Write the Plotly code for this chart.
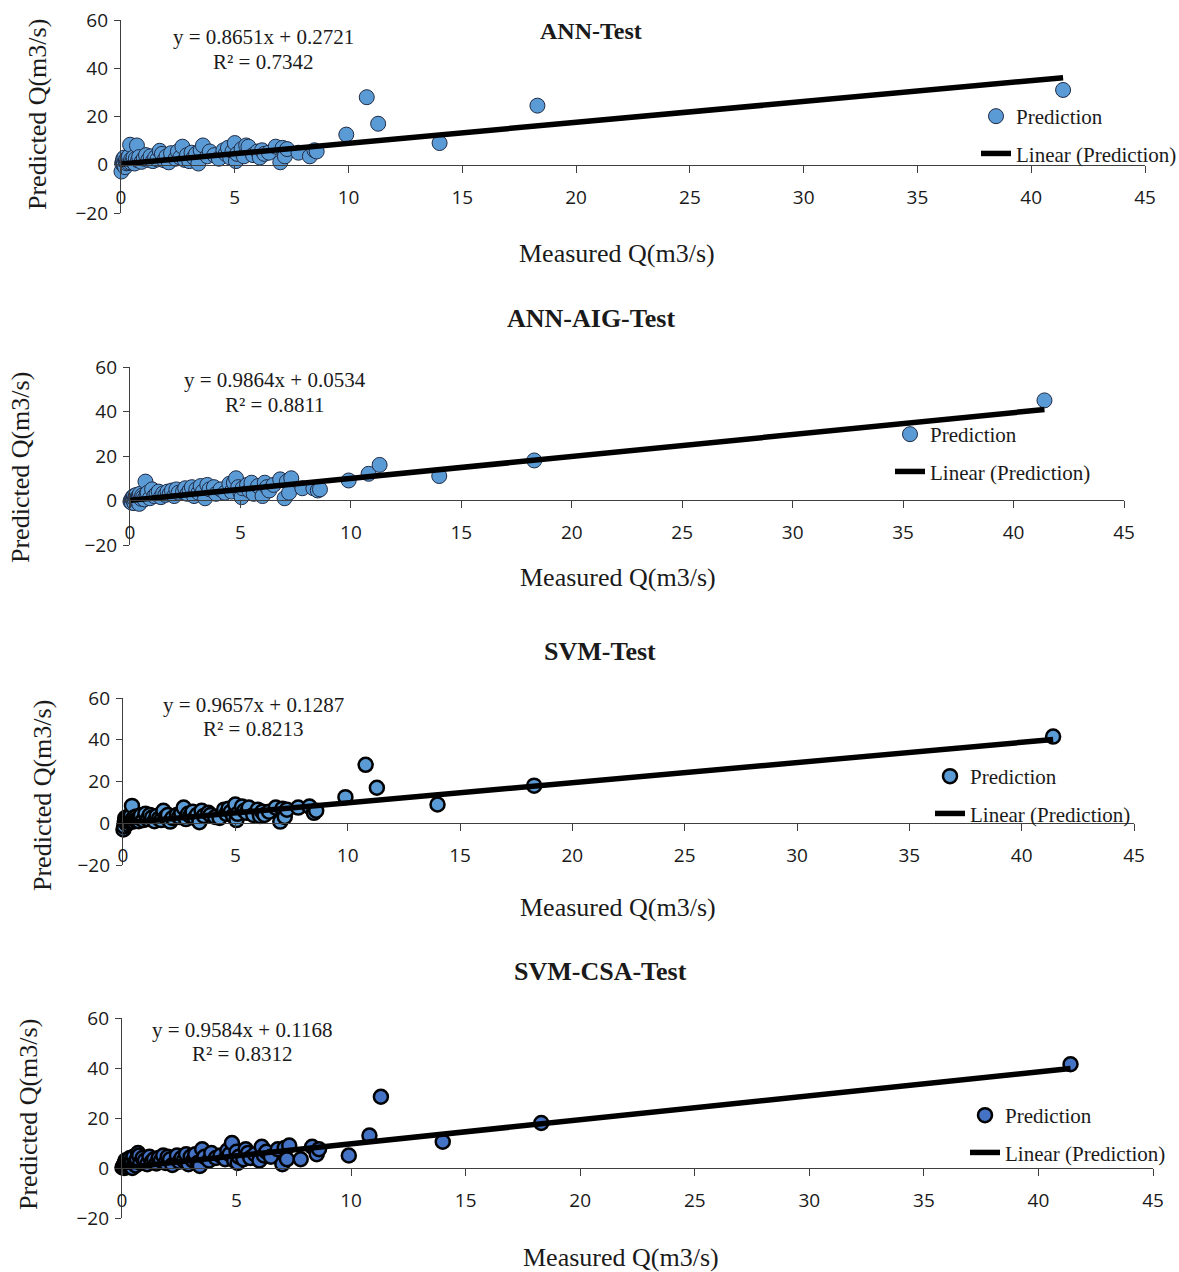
import plotly.graph_objects as go

W, H = 1179, 1272

# ---------------- data ----------------
measured = [0.02, 0.05, 0.08, 0.10, 0.12, 0.15, 0.18, 0.20, 0.22, 0.25,
            0.28, 0.30, 0.33, 0.35, 0.40, 0.42, 0.45, 0.50, 0.55, 0.60,
            0.65, 0.70, 0.75, 0.80, 0.90, 1.00, 1.10, 1.20, 1.30, 1.40,
            1.50, 1.60, 1.70, 1.80, 1.90, 2.00, 2.10, 2.20, 2.40, 2.50,
            2.60, 2.70, 2.80, 2.90, 3.00, 3.10, 3.20, 3.30, 3.40, 3.50,
            3.60, 3.80, 3.90, 4.10, 4.30, 4.50, 4.60, 4.70, 4.80, 4.90,
            5.00, 5.05, 5.10, 5.30, 5.40, 5.50, 5.60, 5.80, 6.00, 6.10,
            6.20, 6.30, 6.50, 6.80, 7.00, 7.10, 7.20, 7.30, 7.80, 8.30,
            8.50, 8.60, 9.90, 10.80, 11.30, 14.00, 18.30, 41.40]

pred_ann = [-2.8, 0.5, 1.5, 2.5, 0.0, 3.0, -1.0, 1.2, 2.0, 0.6,
            1.8, 2.8, 0.8, 3.5, 8.3, 1.0, 2.2, 1.5, 3.0, 0.5,
            2.5, 8.0, 1.8, 3.2, 1.2, 2.5, 4.0, 2.0, 3.5, 1.5,
            3.0, 2.2, 5.8, 4.5, 1.8, 3.5, 1.0, 4.8, 2.5, 5.5,
            3.0, 7.5, 2.0, 4.0, 1.5, 5.0, 3.0, 4.5, 0.5, 6.0,
            8.0, 3.5, 5.5, 4.0, 2.5, 6.0, 4.5, 7.0, 3.0, 5.5,
            9.0, 1.5, 4.5, 6.5, 3.5, 8.0, 7.5, 4.0, 5.5, 3.0,
            6.0, 4.5, 5.0, 7.5, 1.0, 7.0, 3.5, 6.5, 5.0, 3.5,
            6.0, 5.5, 12.5, 28.0, 17.0, 9.0, 24.5, 31.0]

pred_ann_aig = [-0.5, 0.3, -1.0, 0.8, 1.5, 0.2, 2.0, -1.2, 0.5, 1.8,
                2.5, 1.0, 0.0, 1.2, 2.0, -1.5, 3.0, 0.8, 2.2, 1.5,
                0.5, 8.5, 2.5, 3.5, 1.0, 5.0, 2.0, 3.0, 4.0, 1.5,
                3.2, 2.5, 4.0, 3.0, 4.5, 2.0, 5.0, 3.5, 4.0, 5.5,
                3.0, 4.5, 6.0, 2.0, 5.0, 3.5, 6.5, 4.0, 1.0, 7.0,
                5.0, 6.0, 3.0, 5.0, 3.5, 7.5, 4.0, 8.0, 10.0, 6.0,
                3.5, 1.5, 5.5, 7.0, 4.5, 8.0, 3.0, 6.5, 2.0, 8.0,
                6.0, 4.5, 7.0, 9.5, 1.0, 8.5, 3.5, 10.0, 5.5, 5.5,
                4.5, 5.0, 9.0, 12.0, 16.0, 11.0, 18.0, 45.0]

pred_svm = [-3.0, -1.5, 0.8, 2.5, 1.5, 0.0, -0.5, 3.0, 1.0, 2.0,
            0.5, 2.2, 1.2, 3.5, 8.3, 1.8, 0.8, 2.8, 1.5, 3.2,
            2.0, 1.0, 2.5, 3.8, 1.5, 4.5, 2.0, 4.0, 2.8, 1.0,
            3.5, 2.2, 1.5, 6.0, 3.0, 4.0, 0.8, 2.5, 4.0, 3.0,
            5.0, 7.5, 2.0, 4.5, 3.5, 5.5, 2.5, 4.0, 0.5, 6.0,
            3.5, 5.0, 4.0, 3.0, 2.5, 6.5, 4.5, 7.0, 5.5, 3.5,
            9.0, 1.5, 4.5, 8.0, 6.0, 5.0, 7.5, 4.0, 6.5, 3.5,
            5.5, 4.0, 5.5, 7.5, 0.8, 7.0, 3.0, 6.5, 7.5, 8.0,
            5.0, 6.0, 12.5, 28.0, 17.0, 9.0, 18.0, 41.5]

pred_svm_csa = [0.2, 0.5, 1.2, 0.0, 2.0, 3.0, 1.0, 0.3, 2.5, 1.5,
                3.5, 0.8, 2.2, 4.0, 1.5, 3.0, 0.0, 4.5, 2.0, 1.0,
                3.5, 6.0, 5.0, 2.0, 4.0, 3.0, 1.5, 4.5, 2.5, 3.5,
                1.8, 4.0, 3.0, 5.0, 2.0, 4.5, 3.5, 1.2, 5.0, 2.5,
                4.0, 3.0, 5.5, 1.5, 4.5, 3.0, 5.5, 2.0, 0.8, 7.5,
                4.5, 3.0, 6.0, 4.0, 5.0, 3.5, 7.0, 5.5, 10.0, 3.0,
                6.5, 2.0, 4.5, 3.5, 7.5, 6.0, 4.0, 5.5, 3.0, 8.5,
                5.0, 6.5, 4.5, 7.5, 1.5, 8.0, 3.5, 9.0, 3.5, 8.5,
                5.5, 7.5, 5.0, 13.0, 28.5, 10.5, 18.0, 41.5]

model_titles = ["ANN-Test", "ANN-AIG-Test", "SVM-Test", "SVM-CSA-Test"]
predictions = [pred_ann, pred_ann_aig, pred_svm, pred_svm_csa]
slopes = [0.8651, 0.9864, 0.9657, 0.9584]
intercepts = [0.2721, 0.0534, 0.1287, 0.1168]
r_squared = [0.7342, 0.8811, 0.8213, 0.8312]
x_tick_vals = [0, 5, 10, 15, 20, 25, 30, 35, 40, 45]
y_tick_vals = [-20, 0, 20, 40, 60]
x_range = [0, 45]
y_range = [-20, 60]

# ---------------- layout (pixel geometry) ----------------
def fx(p):
    return p / W


def fy(p):
    return 1 - p / H


panels = [
    dict(x0=121, x1=1145, ytop=20, ybot=213, zero=165, title=(591, 31, 24),
         eq=(263, 37, 62), xt=(617, 253), yt=(37, 115), leg=(1016, 116),
         fill="#5B9BD5", edge="#1f2a44", edgew=1, msize=15),
    dict(x0=130, x1=1124, ytop=367, ybot=545, zero=500, title=(591, 319, 26),
         eq=(275, 380, 405), xt=(618, 577), yt=(20, 468), leg=(930, 434),
         fill="#5B9BD5", edge="#1f2a44", edgew=1, msize=15),
    dict(x0=123, x1=1134, ytop=698, ybot=865, zero=823, title=(600, 651, 26),
         eq=(253, 705, 729), xt=(618, 908), yt=(42, 796), leg=(970, 776),
         fill="#5B9BD5", edge="#000000", edgew=2.5, msize=14),
    dict(x0=122, x1=1153, ytop=1018, ybot=1218, zero=1168, title=(600, 971, 26),
         eq=(242, 1030, 1054), xt=(621, 1257), yt=(28, 1115), leg=(1005, 1115),
         fill="#4472C4", edge="#000000", edgew=2.5, msize=14),
]

SERIF = "Liberation Serif"
SANS = "Open Sans"
TXT = "#1a1a1a"
AX = "#3f3f3f"

fig = go.Figure()
annotations = []
layout_axes = {}

for i, (p, name, pred, m, b, r2) in enumerate(
        zip(panels, model_titles, predictions, slopes, intercepts, r_squared), start=1):
    sfx = "" if i == 1 else str(i)
    leg_name = "legend" if i == 1 else f"legend{i}"
    xa, ya = f"x{sfx}", f"y{sfx}"

    fig.add_trace(go.Scatter(
        x=measured, y=pred, mode="markers", name="Prediction",
        xaxis=xa, yaxis=ya, legend=leg_name, legendgroup=f"p{i}",
        cliponaxis=False,
        marker=dict(size=p["msize"], color=p["fill"],
                    line=dict(color=p["edge"], width=p["edgew"])),
    ))
    xs = [min(measured), max(measured)]
    fig.add_trace(go.Scatter(
        x=xs, y=[m * v + b for v in xs], mode="lines",
        name="Linear (Prediction)", xaxis=xa, yaxis=ya, legend=leg_name,
        legendgroup=f"l{i}", cliponaxis=False,
        line=dict(color="black", width=5.5),
    ))

    layout_axes[f"xaxis{sfx}"] = dict(
        domain=[fx(p["x0"]), fx(p["x1"])], range=x_range,
        tickvals=x_tick_vals, ticks="outside", ticklen=7, tickcolor=AX,
        showline=True, linecolor=AX, linewidth=1.2, showgrid=False,
        zeroline=False, anchor="free", position=fy(p["zero"]),
        tickfont=dict(family=SANS, size=19, color=TXT),
        ticklabelstandoff=8, automargin=False,
    )
    layout_axes[f"yaxis{sfx}"] = dict(
        domain=[fy(p["ybot"]), fy(p["ytop"])], range=y_range,
        tickvals=y_tick_vals, ticks="outside", ticklen=6, tickcolor=AX,
        showline=True, linecolor=AX, linewidth=1.2, showgrid=False,
        zeroline=False, anchor=xa,
        tickfont=dict(family=SANS, size=19, color=TXT),
        ticklabelstandoff=2, automargin=False,
    )

    tx, ty, ts = p["title"]
    annotations.append(dict(
        text=f"<b>{name}</b>", x=fx(tx), y=fy(ty), xref="paper", yref="paper",
        xanchor="center", yanchor="middle", showarrow=False,
        font=dict(family=SERIF, size=ts, color=TXT)))
    ex, ey1, ey2 = p["eq"]
    annotations.append(dict(
        text=f"y = {m:.4f}x + {b:.4f}", x=fx(ex), y=fy(ey1), xref="paper",
        yref="paper", xanchor="center", yanchor="middle", showarrow=False,
        font=dict(family=SERIF, size=21, color=TXT)))
    annotations.append(dict(
        text=f"R² = {r2:.4f}", x=fx(ex), y=fy(ey2), xref="paper",
        yref="paper", xanchor="center", yanchor="middle", showarrow=False,
        font=dict(family=SERIF, size=21, color=TXT)))
    annotations.append(dict(
        text="Measured Q(m3/s)", x=fx(p["xt"][0]), y=fy(p["xt"][1]),
        xref="paper", yref="paper", xanchor="center", yanchor="middle",
        showarrow=False, font=dict(family=SERIF, size=26, color=TXT)))
    annotations.append(dict(
        text="Predicted Q(m3/s)", x=fx(p["yt"][0]), y=fy(p["yt"][1]),
        xref="paper", yref="paper", xanchor="center", yanchor="middle",
        textangle=-90, showarrow=False,
        font=dict(family=SERIF, size=26, color=TXT)))

    lx, ly = p["leg"]
    layout_axes[leg_name] = dict(
        x=fx(lx - 40), y=fy(ly - 20), xanchor="left", yanchor="top",
        bgcolor="rgba(0,0,0,0)", tracegroupgap=7,
        font=dict(family=SERIF, size=21, color=TXT),
    )

fig.update_layout(
    width=W, height=H, autosize=False,
    margin=dict(l=0, r=0, t=0, b=0, pad=0, autoexpand=False),
    paper_bgcolor="white", plot_bgcolor="white",
    showlegend=True, annotations=annotations,
    **layout_axes,
)

fig.write_html("out.html")
